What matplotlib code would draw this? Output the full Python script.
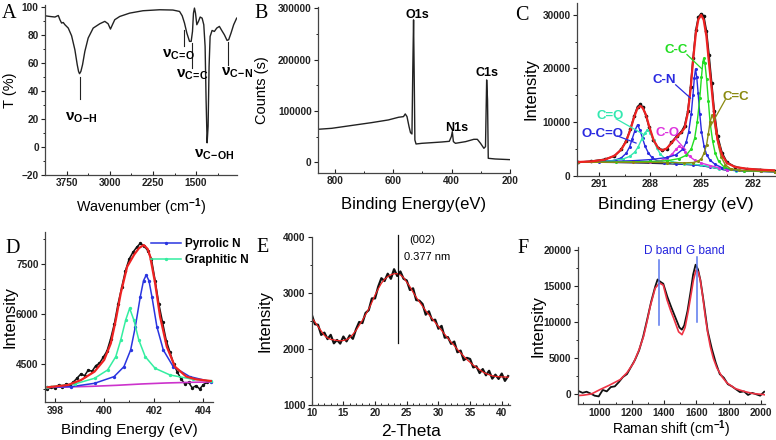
import matplotlib
matplotlib.use('Agg')
import matplotlib.pyplot as plt
from matplotlib.ticker import MultipleLocator

plt.rcParams['font.family'] = 'Liberation Sans'
plt.rcParams['font.weight'] = 'bold'
plt.rcParams['mathtext.fontset'] = 'custom'
plt.rcParams['mathtext.rm'] = 'Liberation Sans:bold'
plt.rcParams['mathtext.it'] = 'Liberation Sans:bold'
plt.rcParams['mathtext.bf'] = 'Liberation Sans:bold'

# ---------------- data ----------------
# A: FTIR
ir_wavenumber = [4125, 4038, 3952, 3894, 3865, 3837, 3808, 3779, 3721, 3663,
                 3606, 3565, 3542, 3525, 3502, 3473, 3433, 3375, 3288, 3173,
                 3086, 3029, 2988, 2954, 2913, 2827, 2654, 2423, 2134, 1904,
                 1788, 1742, 1702, 1661, 1615, 1586, 1563, 1546, 1529, 1511,
                 1488, 1459, 1430, 1396, 1367, 1344, 1327, 1309, 1292, 1275,
                 1257, 1223, 1183, 1142, 1096, 1055, 1009, 963, 934, 894,
                 848, 796]
ir_T = [93.8, 93.3, 92.9, 94.0, 90.9, 88.6, 89.0, 87.4, 85.0, 79.5,
        69.5, 58.8, 54.0, 52.4, 54.0, 58.8, 68.3, 77.9, 85.0, 88.1,
        89.8, 88.1, 84.3, 87.4, 91.0, 93.3, 95.7, 97.4, 98.1, 97.9,
        96.9, 93.8, 88.6, 81.4, 75.5, 75.5, 82.6, 95.7, 99.3, 95.7,
        87.4, 89.8, 92.9, 92.1, 87.4, 71.9, 33.8, 3.0, 14.8, 57.6,
        79.0, 83.3, 82.6, 85.0, 86.2, 83.3, 80.2, 76.2, 76.7, 81.4,
        87.4, 92.1]
ir_marks = [r'$\nu_{\mathrm{O\!-\!H}}$', r'$\nu_{\mathrm{C\!=\!O}}$', r'$\nu_{\mathrm{C\!=\!C}}$',
            r'$\nu_{\mathrm{C\!-\!OH}}$', r'$\nu_{\mathrm{C\!-\!N}}$']
ir_mark_x = [3490, 1805, 1569, 1182, 784]
ir_mark_y = [21, 66, 51.5, -5.5, 53]
ir_line_x = [3525, 1713, 1580, 952]
ir_line_top = [50.0, 83.3, 74.3, 74.8]
ir_line_bot = [34.0, 71.9, 56.4, 58.8]

# B: XPS survey
xps_be = [858, 811, 731, 674, 617, 582, 565, 559, 553, 546,
          541, 536, 533, 530.5, 528, 526, 522, 502, 467, 433,
          408, 401, 397.7, 394, 387, 352, 324, 312, 301, 289.5,
          284, 280, 277, 274.5, 251, 200]
xps_counts = [64300, 66200, 72700, 77300, 82500, 87700, 89000, 94200, 89000, 69500,
              57800, 55200, 186000, 277300, 153900, 43500, 35700, 37000, 38300, 39600,
              40900, 50000, 59700, 40300, 37000, 40300, 44800, 44800, 37000, 27300,
              30500, 160400, 121400, 7800, 6500, 5200]
xps_peaks = ['O1s', 'N1s', 'C1s']
xps_peak_x = [519, 381, 278]
xps_peak_y = [287000, 66200, 173400]

# C: C1s high resolution
c1s_be = [292.22, 291.44, 290.67, 290.09, 289.70, 289.41, 289.16, 288.93, 288.74, 288.58,
          288.43, 288.25, 288.06, 287.81, 287.54, 287.29, 287.03, 286.76, 286.45, 286.18,
          285.99, 285.80, 285.64, 285.49, 285.33, 285.18, 285.02, 284.87, 284.71, 284.56,
          284.40, 284.25, 284.06, 283.80, 283.51, 283.03, 282.35, 281.58, 280.71]
c1s_raw = [2500, 2700, 3050, 3650, 4900, 6500, 8700, 11200, 12900, 13300,
           12800, 11200, 9000, 6600, 5200, 4800, 5000, 6200, 7400, 8200,
           9300, 12000, 16500, 22000, 27200, 29600, 30200, 29800, 27000, 22500,
           17200, 12000, 7400, 4300, 2500, 1650, 1250, 1150, 950]
c1s_fit = [2546, 2670, 2981, 3726, 4844, 6396, 8570, 11054, 12606, 13041,
           12606, 11364, 9191, 6707, 5154, 4720, 5092, 6086, 7204, 8073,
           8880, 11675, 16022, 21611, 26579, 29187, 29994, 29063, 25958, 20990,
           16022, 11054, 6707, 3912, 2360, 1615, 1304, 1118, 994]
c1s_bg_be = [292.22, 290.28, 288.35, 286.42, 285.26, 284.48, 283.71, 282.55, 280.71]
c1s_bg = [2546, 2484, 2360, 2174, 1987, 1615, 1118, 869, 745]

occo_be = [292.2, 291.0, 290.2, 289.7, 289.4, 289.2, 289.05, 288.9, 288.74, 288.6,
           288.45, 288.3, 288.1, 287.9, 287.6, 287.2, 286.5, 285.5, 284.5, 283.5, 280.7]
occo_y = [2560, 2600, 2800, 3300, 4200, 5400, 6900, 8400, 9500, 8500,
          7000, 5500, 4200, 3400, 2800, 2450, 2250, 2050, 1650, 1050, 760]
co_dbl_be = [292.2, 290.5, 289.6, 289.2, 288.9, 288.7, 288.5, 288.3, 288.16, 288.0,
             287.8, 287.6, 287.4, 287.1, 286.7, 286.0, 285.0, 284.0, 283.0, 280.7]
co_dbl_y = [2560, 2700, 3100, 3600, 4400, 5400, 6800, 8000, 8570, 8000,
            6600, 5100, 4000, 3100, 2600, 2250, 2000, 1300, 950, 760]
co_be = [292.2, 289.0, 288.0, 287.4, 287.0, 286.7, 286.5, 286.32, 286.15, 285.95,
         285.7, 285.4, 285.0, 284.5, 284.0, 283.5, 282.5, 280.7]
co_y = [2550, 2500, 2550, 2800, 3300, 4100, 4900, 5450, 5200, 4500,
        3600, 2900, 2350, 1900, 1500, 1150, 900, 760]
cn_be = [292.2, 290.0, 289.0, 288.0, 287.0, 286.5, 286.1, 285.9, 285.75, 285.6,
         285.5, 285.42, 285.35, 285.28, 285.2, 285.1, 285.0, 284.85, 284.7, 284.5,
         284.2, 283.8, 283.0, 281.5, 280.7]
cn_y = [2600, 2700, 2800, 3000, 3400, 3900, 4900, 6200, 8200, 11500,
        15000, 18200, 19900, 18500, 15500, 11500, 8200, 5500, 3900, 2900,
        2100, 1500, 1000, 800, 760]
cc_be = [292.2, 290.0, 288.0, 287.0, 286.3, 285.9, 285.6, 285.4, 285.25, 285.1,
         285.0, 284.92, 284.87, 284.8, 284.7, 284.6, 284.5, 284.35, 284.2, 284.0,
         283.7, 283.3, 282.5, 280.7]
cc_y = [2500, 2550, 2650, 2800, 3200, 3800, 5000, 7000, 10000, 14500,
        18500, 21200, 21900, 21000, 18000, 14000, 10000, 6500, 4200, 2700,
        1700, 1200, 900, 760]
cdc_be = [292.2, 289.0, 287.0, 286.0, 285.5, 285.2, 285.0, 284.85, 284.7, 284.6,
          284.5, 284.38, 284.28, 284.15, 284.0, 283.85, 283.6, 283.3, 282.8, 281.5, 280.7]
cdc_y = [2500, 2500, 2450, 2400, 2450, 2700, 3200, 4200, 5800, 7800,
         10000, 11300, 10500, 8000, 5500, 3500, 2000, 1300, 1000, 850, 760]

c1s_labels = ['C-C', 'C-N', 'C=C', 'C=O', 'O-C=O', 'C-O']
c1s_label_x = [286.5, 287.19, 282.97, 290.34, 290.77, 287.0]
c1s_label_y = [23500, 17760, 14650, 11050, 7820, 7950]
c1s_lead_x0 = [285.85, 286.51, 283.61, 289.99, 289.9, 286.51]
c1s_lead_y0 = [22600, 16950, 14160, 10600, 7400, 6900]
c1s_lead_x1 = [285.0, 285.64, 284.48, 288.35, 288.83, 285.93]
c1s_lead_y1 = [20000, 14470, 9190, 7640, 6090, 4840]

# D: N1s
n1s_raw_be = [397.7, 397.85, 398.0, 398.15, 398.3, 398.45, 398.6, 398.75, 398.9, 399.05,
              399.2, 399.35, 399.5, 399.65, 399.8, 399.95, 400.1, 400.25, 400.4, 400.55,
              400.7, 400.85, 401.0, 401.15, 401.3, 401.45, 401.6, 401.75, 401.9, 402.05,
              402.2, 402.35, 402.5, 402.65, 402.8, 402.95, 403.1, 403.25, 403.4, 403.55,
              403.7, 403.85, 404.0, 404.15]
n1s_raw = [3760, 3800, 3780, 3870, 3820, 3900, 3870, 3960, 4080, 4200,
           4150, 4320, 4280, 4450, 4520, 4700, 4880, 5250, 5700, 6300,
           6800, 7300, 7650, 7850, 8000, 8120, 8050, 7900, 7650, 7000,
           6300, 5750, 5200, 4850, 4500, 4250, 4050, 3900, 3950, 3780,
           3850, 3750, 3880, 3950]
n1s_fit_be = [397.7, 398.53, 399.06, 399.6, 399.99, 400.26, 400.46, 400.66, 400.92, 401.2,
              401.4, 401.59, 401.75, 401.85, 402.05, 402.25, 402.52, 402.85, 403.31, 403.7, 404.3]
n1s_fit = [3800, 3870, 4020, 4270, 4620, 5120, 5820, 6620, 7420, 7780,
           7980, 8070, 7950, 7720, 6920, 5920, 5020, 4420, 4120, 4040, 3990]
pyrrolic_be = [397.7, 398.67, 399.6, 400.39, 400.79, 401.06, 401.25, 401.45, 401.58, 401.69,
               401.8, 401.92, 402.12, 402.38, 402.78, 403.45, 404.3]
pyrrolic = [3800, 3820, 3920, 4120, 4420, 4920, 5620, 6520, 7000, 7170,
            7000, 6520, 5620, 4920, 4420, 4120, 3970]
graphitic_be = [397.7, 398.8, 399.6, 400.13, 400.46, 400.66, 400.86, 401.02, 401.19, 401.39,
                401.65, 402.05, 402.65, 403.58, 404.3]
graphitic = [3810, 3900, 4070, 4320, 4720, 5220, 5820, 6170, 5820, 5220,
             4720, 4370, 4170, 4040, 3990]
n1s_bg_be = [397.7, 398.5, 399.5, 400.5, 401.5, 402.5, 403.5, 404.3]
n1s_bg = [3800, 3810, 3830, 3860, 3900, 3930, 3950, 3960]

# E: XRD
xrd_2theta = [10, 10.5, 11, 11.5, 12, 12.5, 13, 13.5, 14, 14.5,
              15, 15.5, 16, 16.5, 17, 17.5, 18, 18.5, 19, 19.5,
              20, 20.5, 21, 21.5, 22, 22.5, 23, 23.5, 24, 24.5,
              25, 25.5, 26, 26.5, 27, 27.5, 28, 28.5, 29, 29.5,
              30, 30.5, 31, 31.5, 32, 32.5, 33, 33.5, 34, 34.5,
              35, 35.5, 36, 36.5, 37, 37.5, 38, 38.5, 39, 39.5,
              40, 40.5, 41]
xrd_raw = [2614, 2440, 2430, 2250, 2290, 2175, 2250, 2100, 2160, 2095,
           2220, 2135, 2240, 2180, 2350, 2480, 2460, 2640, 2690, 2900,
           2900, 3110, 3260, 3210, 3340, 3250, 3420, 3300, 3380, 3250,
           3220, 3050, 3080, 2870, 2860, 2800, 2610, 2670, 2510, 2520,
           2360, 2410, 2200, 2210, 2090, 2130, 1940, 1970, 1800, 1840,
           1820, 1670, 1690, 1570, 1640, 1530, 1610, 1470, 1540, 1465,
           1560, 1430, 1515]
xrd_fit = [2554, 2480, 2400, 2320, 2240, 2195, 2170, 2160, 2150, 2145,
           2150, 2165, 2200, 2260, 2330, 2420, 2510, 2610, 2710, 2830,
           2960, 3070, 3170, 3240, 3290, 3320, 3340, 3340, 3320, 3270,
           3190, 3110, 3010, 2920, 2840, 2760, 2680, 2610, 2540, 2470,
           2400, 2330, 2260, 2190, 2120, 2060, 1990, 1930, 1870, 1810,
           1760, 1710, 1670, 1630, 1590, 1560, 1540, 1520, 1510, 1505,
           1500, 1500, 1495]
xrd_peak = 23.6

# F: Raman
raman_raw_x = [870, 895, 920, 945, 970, 995, 1020, 1045, 1070, 1095,
               1120, 1145, 1170, 1195, 1220, 1245, 1270, 1295, 1320, 1345,
               1360, 1375, 1395, 1420, 1445, 1470, 1495, 1510, 1525, 1545,
               1565, 1580, 1595, 1610, 1625, 1645, 1670, 1695, 1720, 1745,
               1770, 1795, 1820, 1845, 1870, 1895, 1920, 1945, 1970, 1995, 2020]
raman_raw = [350, 100, 250, 0, -300, -400, 500, 300, 900, 1000,
             1600, 2300, 2700, 3700, 4700, 6000, 7900, 10300, 12800, 14900,
             15900, 15600, 15300, 13500, 12000, 10600, 9200, 8900, 9500, 11500,
             14300, 16600, 17950, 17300, 15800, 12800, 8700, 6300, 4300, 2700,
             2200, 1300, 1000, 600, 200, 300, -200, 100, -100, -300, 250]
raman_fit_x = [866, 900, 950, 1004, 1060, 1128, 1170, 1211, 1245, 1273,
               1295, 1314, 1345, 1372, 1395, 1418, 1440, 1459, 1490, 1511,
               1530, 1551, 1570, 1582, 1598, 1612, 1624, 1640, 1655, 1670,
               1686, 1705, 1727, 1760, 1789, 1840, 1892, 1950, 2016, 2027]
raman_fit = [-280, -230, -60, 560, 1150, 1940, 2900, 4260, 6100, 7960,
             10100, 12120, 14680, 15400, 15100, 13060, 11600, 10510, 8600, 8200,
             9200, 11670, 14200, 15830, 17200, 16900, 15830, 13400, 10740, 8500,
             6570, 4900, 3570, 2300, 1490, 700, 320, 0, -140, -200]
band_names = ['D band', 'G band']
band_pos = [1370, 1603]
band_top = [18610, 19070]
band_bot = [9580, 9900]
band_text_x = [1390, 1655]

# ---------------- figure ----------------
W, H = 776, 440
fig = plt.figure(figsize=(W / 100, H / 100), dpi=100)

TICK = 7.3


def panel(l, t, r, b):
    return fig.add_axes([l / W, 1 - b / H, (r - l) / W, (b - t) / H])


def style(ax, xlim, ylim, xmaj, xmin, ymaj, ymin, xlab, ylab, xlab_y, ylab_x,
          xsize, ysize):
    ax.set_xlim(*xlim)
    ax.set_ylim(*ylim)
    for s in ('top', 'right'):
        ax.spines[s].set_visible(False)
    for s in ('left', 'bottom'):
        ax.spines[s].set_color('#444444')
        ax.spines[s].set_linewidth(0.9)
    ax.xaxis.set_major_locator(MultipleLocator(xmaj))
    ax.xaxis.set_minor_locator(MultipleLocator(xmin))
    ax.yaxis.set_major_locator(MultipleLocator(ymaj))
    ax.yaxis.set_minor_locator(MultipleLocator(ymin))
    ax.tick_params(axis='x', which='both', direction='in', labelsize=TICK, pad=2.5, colors='#222222')
    ax.tick_params(axis='y', which='both', direction='out', labelsize=TICK, pad=1.5, colors='#222222')
    ax.tick_params(which='major', length=3, width=0.8)
    ax.tick_params(which='minor', length=1.8, width=0.7)
    ax.set_xlabel(xlab, fontsize=xsize)
    ax.set_ylabel(ylab, fontsize=ysize)
    ax.xaxis.set_label_coords(0.5, xlab_y)
    ax.yaxis.set_label_coords(ylab_x, 0.5)
    ax.xaxis.label.set_va('center')
    ax.yaxis.label.set_va('center')
    ax.patch.set_alpha(0)


# A
axA = panel(45, 5, 237, 175)
axA.plot(ir_wavenumber, ir_T, color='#222222', lw=1.0)
for x, y0, y1 in zip(ir_line_x, ir_line_bot, ir_line_top):
    axA.plot([x, x], [y0, y1], color='#222222', lw=0.8)
for s, x, y in zip(ir_marks, ir_mark_x, ir_mark_y):
    axA.text(x, y, s, fontsize=11, ha='center', va='center', fontweight='normal')
style(axA, (4125, 790), (-20, 101.5), 750, 375, 20, 10,
      r'Wavenumber (cm$^{-1}$)', 'T (%)', -0.19, -0.18, 10.3, 10.5)

# B
axB = panel(318, 6.7, 510, 173)
axB.plot(xps_be, xps_counts, color='#222222', lw=1.0)
for s, x, y in zip(xps_peaks, xps_peak_x, xps_peak_y):
    axB.text(x, y, s, fontsize=9, ha='center', va='center')
style(axB, (858, 200), (-20800, 303000), 200, 100, 100000, 50000,
      'Binding Energy(eV)', 'Counts (s)', -0.19, -0.29, 12, 10.5)

# C
axC = panel(576.7, 3.3, 775, 175.7)
axC.plot(c1s_be, c1s_raw, color='#111111', lw=1.2, marker='o', ms=1.6)
axC.plot(c1s_bg_be, c1s_bg, color='#1a1a50', lw=1.0)
comp_colors = ['#2a2ae0', '#33e8b0', '#dd33dd', '#2a2ae0', '#22dd22', '#8a8a10']
comps = [(occo_be, occo_y), (co_dbl_be, co_dbl_y), (co_be, co_y),
         (cn_be, cn_y), (cc_be, cc_y), (cdc_be, cdc_y)]
for (xs, ys), c in zip(comps, comp_colors):
    axC.plot(xs, ys, color=c, lw=1.0, marker='o', ms=1.2)
axC.plot(c1s_be, c1s_fit, color='#ee2222', lw=1.6)
lab_colors = ['#22dd22', '#2a2ae0', '#8a8a10', '#33e8b0', '#2a2ae0', '#dd33dd']
for s, x, y, x0, y0, x1, y1, c in zip(c1s_labels, c1s_label_x, c1s_label_y,
                                       c1s_lead_x0, c1s_lead_y0, c1s_lead_x1, c1s_lead_y1,
                                       lab_colors):
    axC.text(x, y, s, fontsize=9.5, color=c, ha='center', va='center')
    axC.plot([x0, x1], [y0, y1], color=c, lw=0.9)
style(axC, (292.3, 280.7), (0, 32160), 3, 1.5, 10000, 5000,
      'Binding Energy (eV)', 'Intensity', -0.165, -0.23, 12.5, 12)

# D
axD = panel(45, 231.7, 213.3, 402.3)
axD.plot(n1s_raw_be, n1s_raw, color='#111111', lw=1.1, marker='o', ms=1.4)
axD.plot(n1s_bg_be, n1s_bg, color='#cc33cc', lw=1.2)
axD.plot(pyrrolic_be, pyrrolic, color='#2a35e0', lw=1.1, marker='o', ms=1.4, label='Pyrrolic N')
axD.plot(graphitic_be, graphitic, color='#33eea0', lw=1.1, marker='o', ms=1.4, label='Graphitic N')
axD.plot(n1s_fit_be, n1s_fit, color='#ee2222', lw=1.6)
axD.legend(loc='upper left', bbox_to_anchor=(0.6, 0.99), frameon=False, fontsize=8.5,
           handlelength=2.6, handletextpad=0.3, labelspacing=0.35, borderaxespad=0)
style(axD, (397.6, 404.4), (3350, 8470), 2, 1, 1500, 750,
      'Binding Energy (eV)', 'Intensity', -0.165, -0.21, 11, 12)

# E
axE = panel(311.7, 236.7, 510, 405)
axE.plot(xrd_2theta, xrd_raw, color='#111111', lw=1.6)
axE.plot(xrd_2theta, xrd_fit, color='#ee2222', lw=0.9)
axE.plot([xrd_peak, xrd_peak], [2100, 4030], color='#111111', lw=0.9, clip_on=False)
axE.text(25.4, 3940, '(002)', fontsize=8, ha='left', va='center', fontweight='normal')
axE.text(24.5, 3630, '0.377 nm', fontsize=8, ha='left', va='center', fontweight='normal')
style(axE, (10, 41.3), (1000, 4000), 5, 1, 1000, 500,
      '2-Theta', 'Intensity', -0.155, -0.235, 12.5, 12)

# F
axF = panel(577.7, 246.7, 765, 404.3)
axF.plot(raman_raw_x, raman_raw, color='#111111', lw=1.3)
axF.plot(raman_fit_x, raman_fit, color='#ee3344', lw=1.2)
for s, x, y0, y1, tx in zip(band_names, band_pos, band_bot, band_top, band_text_x):
    axF.plot([x, x], [y0, y1], color='#5a78ee', lw=1.1)
    axF.text(tx, 19800, s, fontsize=8.5, color='#2222dd', ha='center', va='center',
             fontweight='normal')
style(axF, (865, 2025), (-1500, 20460), 200, 100, 5000, 2500,
      r'Raman shift (cm$^{-1}$)', 'Intensity', -0.155, -0.214, 10, 12)

# panel letters
letters = ['A', 'B', 'C', 'D', 'E', 'F']
letter_x = [2, 254, 515, 5, 256, 517]
letter_y = [18.3, 18.3, 20, 253, 252, 253]
for s, x, y in zip(letters, letter_x, letter_y):
    fig.text(x / W, 1 - y / H, s, fontsize=14.5, family='Liberation Serif',
             fontweight='normal', ha='left', va='baseline')

fig.savefig('out.png', dpi=100)
